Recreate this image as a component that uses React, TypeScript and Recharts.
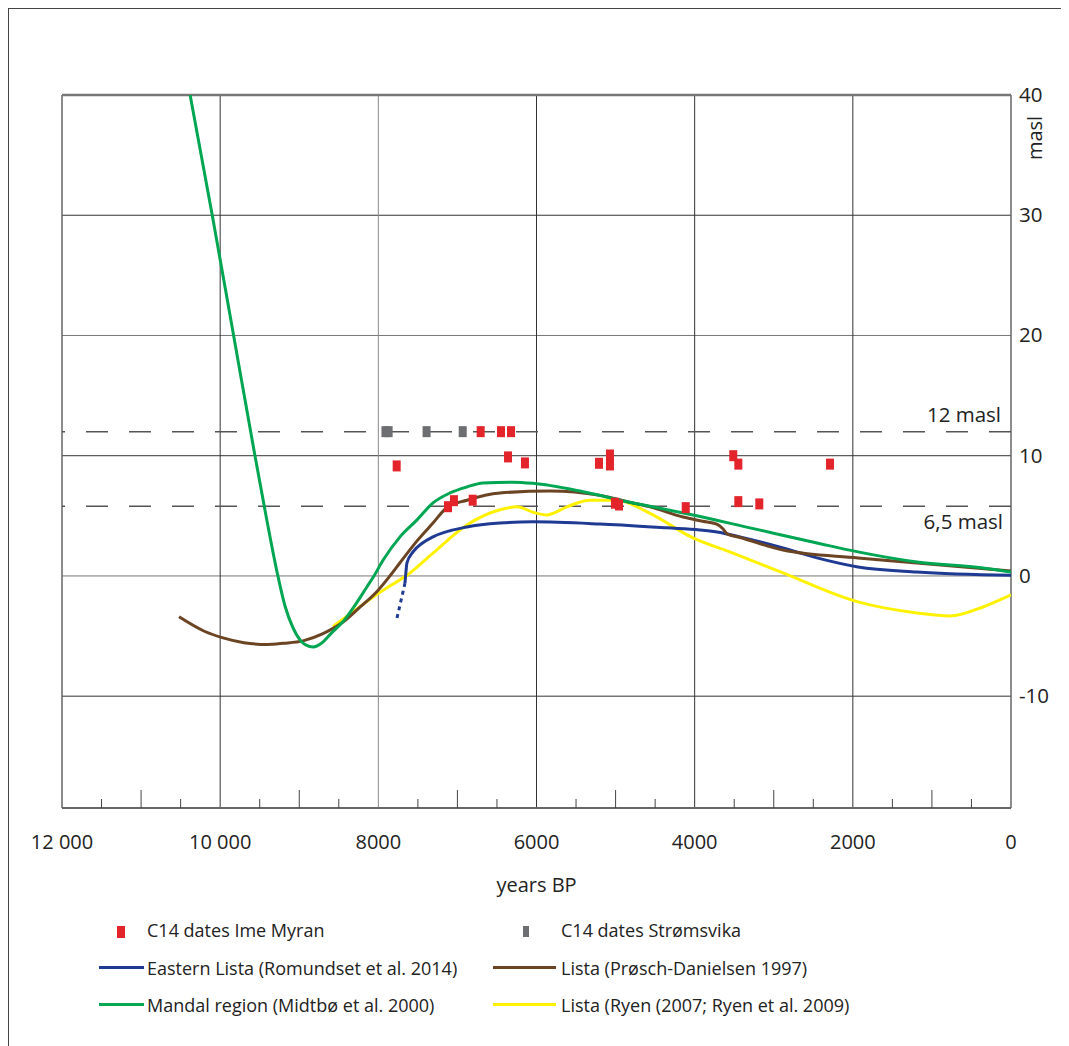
import { ComposedChart, Line, Scatter, XAxis, YAxis, ReferenceLine } from 'recharts';

// curves: [years BP, masl]
const mandal = [
  [10380, 40], [10100, 30], [9830, 20], [9560, 10], [9420, 5], [9270, 0], [9180, -2.5],
  [9080, -4.3], [8980, -5.4], [8880, -5.85], [8820, -5.9], [8720, -5.6], [8600, -4.8],
  [8460, -3.9], [8143, -0.9], [8055, 0], [7941, 1.3],
  [7726, 3.25], [7511, 4.66], [7309, 6.07], [7094, 6.9], [6880, 7.4], [6677, 7.73], [6300, 7.8],
  [6044, 7.7], [5412, 7.0], [4780, 6.07], [4565, 5.8], [4021, 5.07], [3300, 4.0], [2453, 2.74],
  [1935, 2.0], [1189, 1.16], [354, 0.67], [0, 0.33],
];
const prosch = [
  [10520, -3.4], [10200, -4.6], [9964, -5.15], [9700, -5.55], [9408, -5.7], [9200, -5.6],
  [8953, -5.4], [8700, -4.8], [8460, -3.9], [8250, -2.7], [8017, -1.3], [7853, 0], [7726, 1.1],
  [7500, 3.0], [7309, 4.4], [7132, 5.7], [6880, 6.3], [6462, 6.9], [5830, 7.07], [5197, 6.7],
  [4780, 6.07], [4565, 5.75], [4148, 4.9], [3900, 4.55], [3720, 4.3], [3640, 3.9], [3591, 3.5],
  [3427, 3.2], [2883, 2.16], [1935, 1.5], [1189, 1.08], [0, 0.42],
];
const romundsetDotted = [[7764, -3.5], [7663, -0.6]];
const romundset = [
  [7663, -0.6], [7650, 0.4], [7638, 1.08], [7562, 2.0], [7450, 2.7], [7309, 3.25], [6880, 4.07],
  [6462, 4.4], [6044, 4.5], [5197, 4.32], [4350, 4.0], [3933, 3.83], [3718, 3.66], [3427, 3.25],
  [2883, 2.33], [2453, 1.5], [1935, 0.75], [1189, 0.33], [0, 0.05],
];
const ryen = [
  [8573, -4.2], [7941, -1.2], [7600, 0.25], [7309, 1.9], [6880, 4.24], [6462, 5.5], [6247, 5.75],
  [6044, 5.3], [5868, 5.07], [5615, 5.75], [5324, 6.3], [4982, 6.3], [4565, 5.2], [4021, 3.16],
  [3515, 1.9], [2883, 0.25], [1935, -2.16], [1189, -3.08], [771, -3.33], [354, -2.58], [0, -1.58],
];

// C14 dates
const imeMyran = [
  [7768, 9.15], [7119, 5.76], [7044, 6.26], [6807, 6.3], [6706, 12.0], [6449, 12.0], [6322, 12.0],
  [6360, 9.9], [6146, 9.4], [5210, 9.37], [5071, 10.06], [5071, 9.23], [5008, 6.05], [4957, 5.9],
  [4113, 5.68], [3512, 10.0], [3448, 9.3], [3448, 6.18], [3183, 5.99], [2289, 9.3],
];
const stromsvika = [[7910, 12], [7870, 12], [7390, 12], [6933, 12]];

const xTicks = Array.from({ length: 25 }, (_, i) => i * 500);
const yTicks = [-10, 0, 10, 20, 30, 40];
const xGrid = [10000, 8000, 6000, 4000, 2000];
const yGrid = [30, 20, 10, 0, -10];
const xLabels: Record<number, string> = {
  12000: '12 000', 10000: '10 000', 8000: '8000', 6000: '6000', 4000: '4000', 2000: '2000', 0: '0',
};

const toRows = (pts: number[][]) => pts.map(([year, v]) => ({ year, v }));

const FONT = "'Open Sans', sans-serif";

const XTick = (props: any) => {
  const { x, y, payload } = props;
  const val = payload.value;
  const label = xLabels[val];
  const isLong = val % 1000 === 0 && val % 2000 !== 0;
  const isShort = val % 1000 !== 0;
  return (
    <g>
      {isLong && <line x1={x} x2={x} y1={y} y2={y - 18} stroke="#444" strokeWidth={1} />}
      {isShort && <line x1={x} x2={x} y1={y} y2={y - 9} stroke="#444" strokeWidth={1} />}
      {label && (
        <text x={x} y={y + 41} textAnchor="middle" fontSize={20} fill="#222" fontFamily={FONT}>
          {label}
        </text>
      )}
    </g>
  );
};

const YTick = (props: any) => {
  const { x, y, payload } = props;
  return (
    <text x={x + 8} y={y + 7} textAnchor="start" fontSize={20.5} fill="#222" fontFamily={FONT}>
      {payload.value}
    </text>
  );
};

const RedBox = (props: any) => {
  const { cx, cy } = props;
  return <rect x={cx - 4} y={cy - 5.5} width={8} height={11} fill="#e3242b" />;
};
const GreyBox = (props: any) => {
  const { cx, cy } = props;
  return <rect x={cx - 4} y={cy - 5.5} width={8} height={11} fill="#6d6e71" />;
};

const legendText = { fontFamily: FONT, fontSize: 18, color: '#222' };

export default function App() {
  return (
    <div
      style={{
        position: 'relative',
        width: 1061,
        height: 1038,
        borderTop: '1.5px solid #444',
        borderLeft: '1.5px solid #444',
        boxSizing: 'border-box',
        background: '#fff',
      }}
    >
      <div style={{ position: 'absolute', left: -1.5, top: -1.5 }}>
        <ComposedChart width={1061} height={890} margin={{ top: 87, right: 8, bottom: 30, left: 54 }}>
          <XAxis
            type="number"
            dataKey="year"
            domain={[0, 12000]}
            reversed
            ticks={xTicks}
            interval={0}
            tickSize={0}
            tickMargin={0}
            tick={<XTick />}
            height={60}
            axisLine={{ stroke: '#666', strokeWidth: 2 }}
            allowDataOverflow
            label={{ value: 'years BP', position: 'bottom', offset: 10, fontSize: 20, fill: '#222', fontFamily: FONT }}
          />
          <YAxis
            type="number"
            dataKey="v"
            orientation="right"
            domain={[-19.3, 40]}
            ticks={yTicks}
            interval={0}
            tickSize={0}
            tickMargin={0}
            tick={<YTick />}
            axisLine={false}
            width={50}
            allowDataOverflow
            label={{
              content: (p: any) => {
                const vb = p.viewBox;
                return (
                  <text
                    x={vb.x + 31}
                    y={vb.y + 43}
                    transform={`rotate(-90 ${vb.x + 31} ${vb.y + 43})`}
                    textAnchor="middle"
                    fontSize={20}
                    fill="#222"
                    fontFamily={FONT}
                  >
                    masl
                  </text>
                );
              },
            }}
          />

          {yGrid.map((v) => (
            <ReferenceLine key={`h${v}`} y={v} stroke={v === 20 || v === 0 ? '#777' : '#333'} strokeWidth={1} />
          ))}
          {xGrid.map((v) => (
            <ReferenceLine key={`v${v}`} x={v} stroke={v === 8000 ? '#888' : '#333'} strokeWidth={1} />
          ))}
          <ReferenceLine x={12000} stroke="#666" strokeWidth={1.5} />
          <ReferenceLine x={0} stroke="#666" strokeWidth={1.5} />
          <ReferenceLine y={40} stroke="#777" strokeWidth={2.5} />

          <ReferenceLine
            y={12}
            stroke="#555"
            strokeWidth={1.5}
            strokeDasharray="22 21"
            label={{ value: '12 masl', position: 'insideBottomRight', offset: 10, fontSize: 20.5, fill: '#222', fontFamily: FONT }}
          />
          <ReferenceLine
            y={5.8}
            stroke="#555"
            strokeWidth={1.5}
            strokeDasharray="22 21"
            label={{ value: '6,5 masl', position: 'insideTopRight', offset: 8, fontSize: 20.5, fill: '#222', fontFamily: FONT }}
          />

          <Line data={toRows(ryen)} dataKey="v" type="monotone" stroke="#fff200" strokeWidth={3} dot={false} isAnimationActive={false} />
          <Line data={toRows(romundsetDotted)} dataKey="v" type="linear" stroke="#1f3a93" strokeWidth={3} strokeDasharray="4 4" dot={false} isAnimationActive={false} />
          <Line data={toRows(romundset)} dataKey="v" type="monotone" stroke="#1f3a93" strokeWidth={3} dot={false} isAnimationActive={false} />
          <Line data={toRows(prosch)} dataKey="v" type="monotone" stroke="#6b4423" strokeWidth={3} dot={false} isAnimationActive={false} />
          <Line data={toRows(mandal)} dataKey="v" type="monotone" stroke="#00a651" strokeWidth={3} dot={false} isAnimationActive={false} />

          <Scatter data={toRows(stromsvika)} shape={<GreyBox />} isAnimationActive={false} />
          <Scatter data={toRows(imeMyran)} shape={<RedBox />} isAnimationActive={false} />
        </ComposedChart>
      </div>

      {/* legend */}
      <div style={{ position: 'absolute', left: 0, top: 0, width: '100%', height: '100%', pointerEvents: 'none' }}>
        <div style={{ position: 'absolute', left: 108, top: 917, width: 8, height: 12, background: '#e3242b' }} />
        <div style={{ position: 'absolute', left: 138, top: 909, ...legendText }}>C14 dates Ime Myran</div>
        <div style={{ position: 'absolute', left: 514, top: 917, width: 6, height: 11, background: '#6d6e71' }} />
        <div style={{ position: 'absolute', left: 552, top: 909, ...legendText }}>C14 dates Strømsvika</div>

        <div style={{ position: 'absolute', left: 90, top: 957, width: 45, height: 3, background: '#1f3a93' }} />
        <div style={{ position: 'absolute', left: 138, top: 947, ...legendText }}>Eastern Lista (Romundset et al. 2014)</div>
        <div style={{ position: 'absolute', left: 484, top: 957, width: 63, height: 3, background: '#6b4423' }} />
        <div style={{ position: 'absolute', left: 552, top: 947, ...legendText }}>Lista (Prøsch-Danielsen 1997)</div>

        <div style={{ position: 'absolute', left: 90, top: 994, width: 45, height: 3, background: '#00a651' }} />
        <div style={{ position: 'absolute', left: 138, top: 984, ...legendText }}>Mandal region (Midtbø et al. 2000)</div>
        <div style={{ position: 'absolute', left: 484, top: 994, width: 63, height: 3, background: '#fff200' }} />
        <div style={{ position: 'absolute', left: 552, top: 984, ...legendText }}>Lista (Ryen (2007; Ryen et al. 2009)</div>
      </div>
    </div>
  );
}
